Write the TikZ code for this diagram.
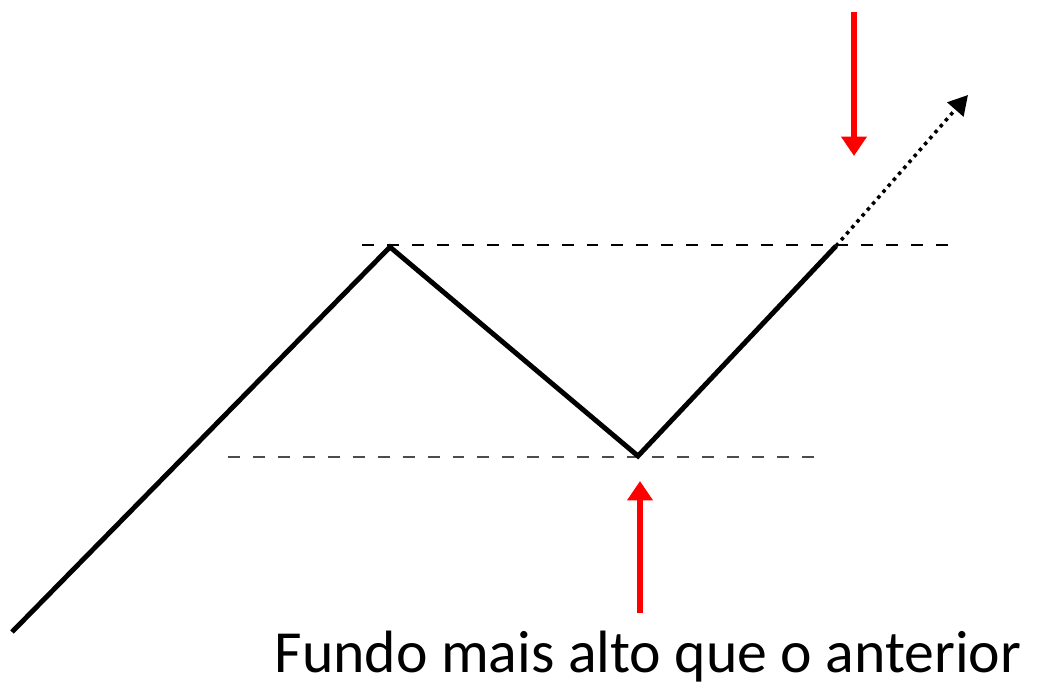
\documentclass[tikz,border=0pt]{standalone}
\usepackage{fontspec}
\setmainfont{Carlito}
\usetikzlibrary{arrows.meta}
\tikzset{
	trend/.style = {black, line width = 2.8pt, line join = miter},
	level/.style = {black, line width = 1.4pt, dash pattern = on 6.8pt off 7.4pt},
	signal/.style = {red, line width = 3.4pt, -{Triangle[width = 14pt, length = 11pt]}}
}
\begin{document}
\begin{tikzpicture}[x = 0.02cm, y = -0.02cm]
		\useasboundingbox (0,0) rectangle (1039,686);
		\coordinate (P0) at (12,632);
		\coordinate (P1) at (390,247);
		\coordinate (P2) at (638,456);
		\coordinate (P3) at (836,246);
		\coordinate (P4) at (968,95);
		\coordinate (T0) at (362,245);
		\coordinate (T1) at (957,245);
		\coordinate (B0) at (228,457);
		\coordinate (B1) at (815,457);
		\coordinate (S0) at (854,12);
		\coordinate (S1) at (854,156);
		\coordinate (U0) at (640,613);
		\coordinate (U1) at (640,481);
		\node[anchor = base, font = \fontsize{34}{36}\selectfont, inner sep = 0pt] at (648,672) (note) {Fundo mais alto que o anterior};
		
		\draw[level] (T0) -- (T1);
		\draw[level, black!70] (B0) -- (B1);
		\draw[trend] (P0) -- (P1) -- (P2) -- (P3);
		\draw[black, line width = 2pt, dash pattern = on 2pt off 2.5pt, -{Triangle[width = 12pt, length = 11pt]}] (P3) -- (P4);
		\draw[signal] (S0) -- (S1);
		\draw[signal] (U0) -- (U1);
\end{tikzpicture}
\end{document}
